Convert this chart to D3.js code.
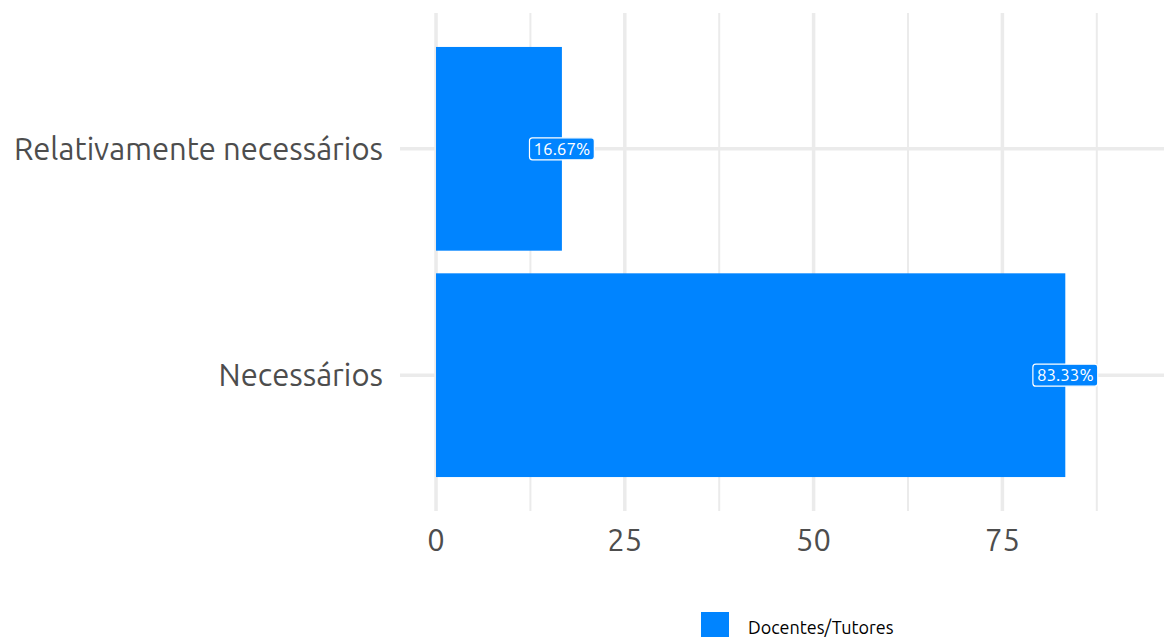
<!DOCTYPE html>
<html><head><meta charset="utf-8">
<script src="https://cdn.jsdelivr.net/npm/d3@7"></script>
<style>body{margin:0;background:#fff;}svg{display:block;font-family:"Ubuntu","Noto Sans","Open Sans",sans-serif;}</style>
</head><body>
<svg id="c" width="1164" height="637"></svg>
<script>
const categories = ["Relativamente necessários", "Necessários"];
const values = [16.67, 83.33];
const labels = ["16.67%", "83.33%"];
const xTicks = [0, 25, 50, 75];
const xMinor = [12.5, 37.5, 62.5, 87.5];
const seriesName = "Docentes/Tutores";
const color = "#0084FF";

const svg = d3.select("#c");
const L = 400, R = 1164, T = 13, B = 511;
const x = d3.scaleLinear().domain([-4.77, 96.4]).range([L, R]);
// ggplot discrete axis: expand add 0.6, bar width 0.9
const step = (B - T) / (categories.length - 1 + 1.2);
const yc = c => T + step * (0.6 + categories.indexOf(c));
const bw = step * 0.9;

const g = svg.append("g");
g.selectAll(".minor").data(xMinor).join("line")
  .attr("x1", d => x(d)).attr("x2", d => x(d)).attr("y1", T).attr("y2", B)
  .attr("stroke", "#ebebeb").attr("stroke-width", 2);
g.selectAll(".majx").data(xTicks).join("line")
  .attr("x1", d => x(d)).attr("x2", d => x(d)).attr("y1", T).attr("y2", B)
  .attr("stroke", "#ebebeb").attr("stroke-width", 3.5);
g.selectAll(".majy").data(categories).join("line")
  .attr("x1", L).attr("x2", R).attr("y1", d => yc(d)).attr("y2", d => yc(d))
  .attr("stroke", "#ebebeb").attr("stroke-width", 3.5);

g.selectAll(".bar").data(values).join("rect")
  .attr("x", x(0)).attr("width", d => x(d) - x(0))
  .attr("y", (d, i) => yc(categories[i]) - bw / 2).attr("height", bw)
  .attr("fill", color);

const lab = g.selectAll(".lab").data(values).join("g")
  .attr("transform", (d, i) => `translate(${x(d)},${yc(categories[i])})`);
lab.append("text").text((d, i) => labels[i])
  .attr("text-anchor", "middle").attr("dy", "0.36em")
  .attr("font-size", 17).attr("fill", "#fff");
lab.each(function () {
  const t = d3.select(this).select("text");
  const bb = t.node().getBBox();
  d3.select(this).insert("rect", "text")
    .attr("x", bb.x - 4).attr("y", -11).attr("width", bb.width + 8).attr("height", 22)
    .attr("rx", 3).attr("fill", color).attr("stroke", "#fff").attr("stroke-width", 1.2);
});

g.selectAll(".ylab").data(categories).join("text")
  .attr("x", 383).attr("y", d => yc(d)).attr("dy", "0.36em")
  .attr("text-anchor", "end").attr("font-size", 31).attr("fill", "#4d4d4d").text(d => d);
g.selectAll(".xlab").data(xTicks).join("text")
  .attr("x", d => x(d)).attr("y", 540).attr("dy", "0.36em")
  .attr("text-anchor", "middle").attr("font-size", 31).attr("fill", "#4d4d4d").text(d => d);

svg.append("rect").attr("x", 701).attr("y", 612).attr("width", 28).attr("height", 28).attr("fill", color);
svg.append("text").attr("x", 748).attr("y", 628).attr("dy", "0.36em")
  .attr("font-size", 18).attr("fill", "#000").text(seriesName);
</script>
</body></html>
